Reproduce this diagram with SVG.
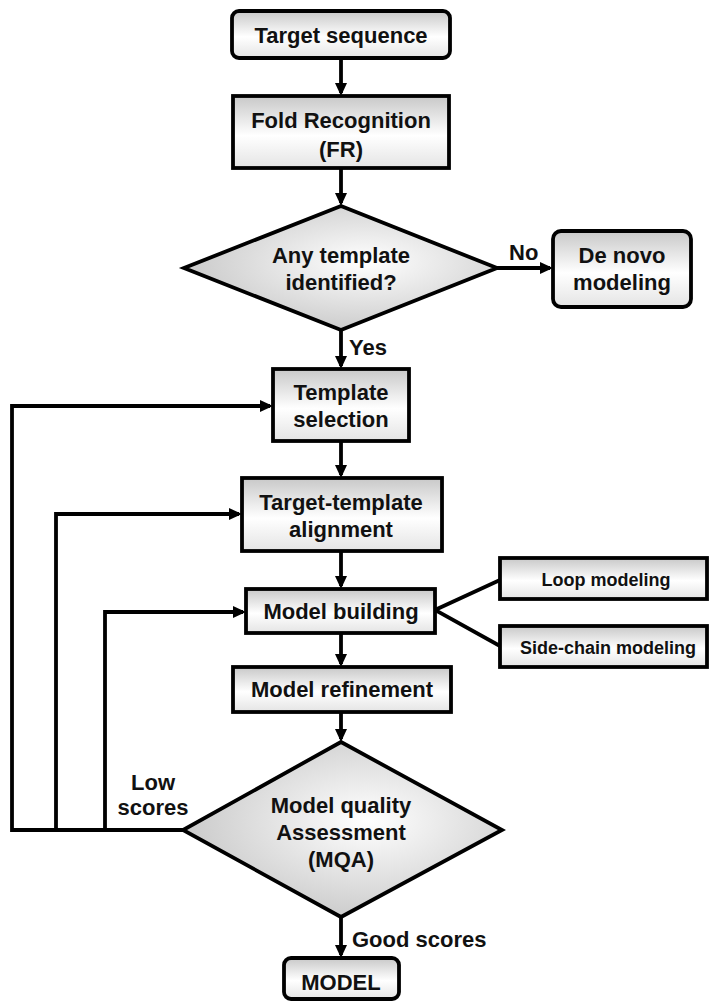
<svg xmlns="http://www.w3.org/2000/svg" width="709" height="1003" viewBox="0 0 709 1003">
<defs>
<linearGradient id="gBox" x1="0" y1="0" x2="0" y2="1">
<stop offset="0" stop-color="#c8c8c8"/>
<stop offset="0.55" stop-color="#ffffff"/>
<stop offset="1" stop-color="#e4e4e4"/>
</linearGradient>
<radialGradient id="gDia" cx="0.58" cy="0.45" r="0.62">
<stop offset="0" stop-color="#ffffff"/>
<stop offset="1" stop-color="#c6c6c6"/>
</radialGradient>
<marker id="arr" viewBox="0 0 13 12" markerWidth="13" markerHeight="12" refX="10" refY="6" orient="auto" markerUnits="userSpaceOnUse">
<path d="M0,0 L13,6 L0,12 z" fill="#000"/>
</marker>
</defs>
<style>
.box{fill:url(#gBox);stroke:#000;stroke-width:3.8}
.dia{fill:url(#gDia);stroke:#000;stroke-width:3.8;stroke-linejoin:miter}
.t{font-family:"Liberation Sans",Arial,sans-serif;font-weight:bold;font-size:22px;fill:#111;text-anchor:middle}
.ts{font-family:"Liberation Sans",Arial,sans-serif;font-weight:bold;font-size:18px;fill:#111;text-anchor:middle}
.lbl{font-family:"Liberation Sans",Arial,sans-serif;font-weight:bold;font-size:22px;fill:#111}
.c{fill:none;stroke:#000;stroke-width:3.8}
.ca{fill:none;stroke:#000;stroke-width:3.8;marker-end:url(#arr)}
</style>
<rect width="709" height="1003" fill="#fff"/>
<g id="connectors">
<line class="ca" x1="341" y1="58" x2="341" y2="93"/>
<line class="ca" x1="341" y1="168" x2="341" y2="203"/>
<line class="ca" x1="497" y1="268" x2="550" y2="268"/>
<line class="ca" x1="341" y1="330" x2="341" y2="366"/>
<line class="ca" x1="341" y1="441" x2="341" y2="475"/>
<line class="ca" x1="341" y1="551" x2="341" y2="586"/>
<line class="ca" x1="341" y1="633" x2="341" y2="664"/>
<line class="ca" x1="341" y1="712" x2="341" y2="739"/>
<line class="ca" x1="341" y1="917" x2="341" y2="955"/>
<polyline class="c" points="183,830 12,830 12,406 200,406"/>
<line class="ca" x1="190" y1="406" x2="270" y2="406"/>
<polyline class="c" points="56,830 56,514 200,514"/>
<line class="ca" x1="190" y1="514" x2="239" y2="514"/>
<polyline class="c" points="105,830 105,612 200,612"/>
<line class="ca" x1="190" y1="612" x2="243" y2="612"/>
<polyline class="c" points="500,580 435,610 500,646"/>
<text class="lbl" x="509" y="260">No</text>
<text class="lbl" x="349" y="355">Yes</text>
<text class="t" x="153" y="790">Low</text>
<text class="t" x="153" y="815">scores</text>
<text class="lbl" x="352" y="947">Good scores</text>
</g>
<g id="target-sequence">
<rect class="box" x="232" y="11" width="218" height="47" rx="7"/>
<text class="t" x="341" y="43">Target sequence</text>
</g>
<g id="fold-recognition">
<rect class="box" x="233" y="96" width="216" height="72"/>
<text class="t" x="341" y="128">Fold Recognition</text>
<text class="t" x="341" y="157">(FR)</text>
</g>
<g id="template-identified">
<polygon class="dia" points="341,206 497,268 341,330 184,268"/>
<text class="t" x="341" y="263">Any template</text>
<text class="t" x="341" y="290">identified?</text>
</g>
<g id="de-novo">
<rect class="box" x="553" y="231" width="138" height="76" rx="8"/>
<text class="t" x="622" y="263">De novo</text>
<text class="t" x="622" y="290">modeling</text>
</g>
<g id="template-selection">
<rect class="box" x="273" y="369" width="136" height="72"/>
<text class="t" x="341" y="400">Template</text>
<text class="t" x="341" y="427">selection</text>
</g>
<g id="target-template-alignment">
<rect class="box" x="242" y="478" width="200" height="73"/>
<text class="t" x="341" y="510">Target-template</text>
<text class="t" x="341" y="537">alignment</text>
</g>
<g id="model-building">
<rect class="box" x="246" y="589" width="189" height="44"/>
<text class="t" x="341" y="619">Model building</text>
</g>
<g id="loop-modeling">
<rect class="box" x="500" y="558" width="207" height="41"/>
<text class="ts" x="606" y="586">Loop modeling</text>
</g>
<g id="side-chain-modeling">
<rect class="box" x="500" y="626" width="207" height="41"/>
<text class="ts" x="608" y="654">Side-chain modeling</text>
</g>
<g id="model-refinement">
<rect class="box" x="233" y="667" width="218" height="45"/>
<text class="t" x="342" y="697">Model refinement</text>
</g>
<g id="mqa">
<polygon class="dia" points="341,742 502,830 341,917 183,830"/>
<text class="t" x="341" y="813">Model quality</text>
<text class="t" x="341" y="840">Assessment</text>
<text class="t" x="341" y="867">(MQA)</text>
</g>
<g id="model">
<rect class="box" x="284" y="958" width="115" height="41" rx="7"/>
<text class="t" x="341" y="990">MODEL</text>
</g>
</svg>
